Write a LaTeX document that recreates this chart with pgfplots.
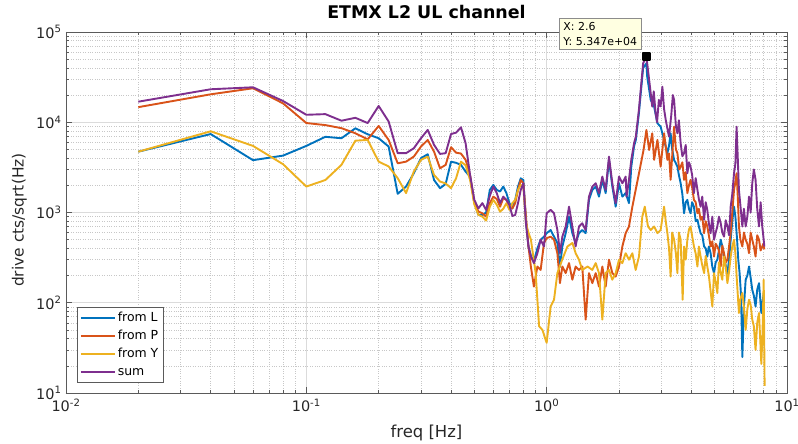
\documentclass[border=0pt]{standalone}
\usepackage{pgfplots}
\pgfplotsset{compat=1.18}
\usepackage{fontspec}
\setmainfont{DejaVu Sans}

\definecolor{mblue}{RGB}{0,114,189}
\definecolor{mred}{RGB}{217,83,25}
\definecolor{myellow}{RGB}{237,177,32}
\definecolor{mpurple}{RGB}{126,47,142}
\definecolor{axgray}{RGB}{90,90,90}
\definecolor{tipfill}{RGB}{255,255,225}

\begin{document}
\begin{tikzpicture}
\begin{axis}[
  xmode=log, ymode=log,
  scale only axis,
  width=721bp, height=361bp,
  xmin=0.01, xmax=10, ymin=10, ymax=1e5,
  xtick={0.01,0.1,1,10},
  xticklabels={10\textsuperscript{-2},10\textsuperscript{-1},10\textsuperscript{0},10\textsuperscript{1}},
  ytick={10,100,1000,10000,100000},
  yticklabels={10\textsuperscript{1},10\textsuperscript{2},10\textsuperscript{3},10\textsuperscript{4},10\textsuperscript{5}},
  ticklabel style={font=\fontsize{14.5}{16}\selectfont, text=black!85},
  xticklabel style={yshift=-2.5bp},
  yticklabel style={xshift=-1bp},
  tick align=inside,
  major tick length=6bp, minor tick length=3bp,
  tick style={axgray, line width=0.5bp},
  axis line style={axgray, line width=0.6bp},
  grid=both,
  major grid style={black!14, line width=0.6bp},
  minor grid style={black!22, dotted, line width=0.5bp},
  title={\bfseries ETMX L2 UL channel},
  title style={at={(axis description cs:0.5,1.039)}, anchor=center, font=\fontsize{17.5}{19}\selectfont},
  xlabel={freq [Hz]},
  xlabel style={at={(axis description cs:0.5,-0.111)}, anchor=center, font=\fontsize{16.5}{18}\selectfont, text=black!85},
  ylabel={drive cts/sqrt(Hz)},
  ylabel style={at={(axis description cs:-0.0645,0.479)}, anchor=center, font=\fontsize{15.5}{17}\selectfont, text=black!85},
  legend style={at={(axis description cs:0.0148,0.0285)}, anchor=south west,
    draw=axgray, fill=white, font=\fontsize{12.5}{14}\selectfont,
    nodes={text height=9bp, text depth=2.5bp, inner sep=2bp},
    row sep=2.5bp, inner xsep=3bp, inner ysep=3bp},
  legend cell align=left,
  legend image code/.code={\draw[#1, line width=1.9bp] (0bp,0bp) -- (34bp,0bp);},
  every axis plot/.append style={line width=1.9bp, line join=round},
  clip=false,
]

% from L
\addplot[mblue] table {
f v
0.02 4720
0.04 7400
0.06 3800
0.08 4270
0.10 5470
0.12 6900
0.14 6650
0.16 8570
0.18 7360
0.20 6650
0.22 5380
0.24 1610
0.26 1940
0.28 2720
0.30 4000
0.32 4420
0.34 2290
0.36 1860
0.38 2070
0.40 3660
0.42 3550
0.44 3370
0.46 2840
0.48 2500
0.50 1300
0.52 940
0.54 940
0.56 1000
0.58 1780
0.60 2020
0.62 1780
0.64 1710
0.66 1940
0.68 1640
0.70 1270
0.72 1110
0.74 1380
0.76 1940
0.78 2390
0.80 2290
0.82 800
0.84 420
0.86 330
0.885 290
0.915 400
0.944 500
0.975 540
1.0 590
1.039 640
1.073 540
1.108 460
1.136 250
1.162 420
1.2 590
1.239 900
1.279 590
1.32 460
1.363 590
1.407 640
1.453 590
1.5 1380
1.549 1780
1.6 1940
1.651 1500
1.705 2300
1.76 1640
1.817 3830
1.876 1940
1.937 1160
2.0 2110
2.065 1500
2.132 1640
2.2 1270
2.25 3220
2.31 5400
2.35 6370
2.42 12600
2.52 40000
2.6 45000
2.62 32000
2.71 17700
2.8 14900
2.89 9750
2.98 8930
3.08 6370
3.18 4540
3.23 5500
3.28 7550
3.33 5000
3.39 3830
3.45 3500
3.5 3220
3.55 2600
3.61 2110
3.67 1600
3.73 980
3.79 1300
3.85 1380
3.91 1100
3.97 980
4.03 1300
4.1 1160
4.17 800
4.24 830
4.3 700
4.37 590
4.44 560
4.52 420
4.59 400
4.66 325
4.73 420
4.81 354
4.89 250
4.97 213
5.05 280
5.13 300
5.21 380
5.3 500
5.38 420
5.47 325
5.56 260
5.65 213
5.74 300
5.83 500
5.92 800
6.02 1160
6.1 900
6.2 500
6.27 300
6.35 213
6.44 120
6.52 25
6.62 90
6.73 180
6.84 200
6.95 252
7.06 190
7.17 139
7.28 120
7.4 91
7.52 140
7.65 165
7.74 110
7.82 77
7.91 100
8.0 128
};
\addlegendentry{from L}

% from P
\addplot[mred] table {
f v
0.02 14700
0.04 20400
0.06 23800
0.08 16200
0.10 9800
0.12 9300
0.14 8600
0.16 7550
0.18 6460
0.20 9100
0.22 6370
0.24 3510
0.26 3660
0.28 4160
0.30 5380
0.32 6370
0.34 4720
0.36 3090
0.38 3370
0.40 5290
0.42 4600
0.44 4500
0.46 3830
0.48 2610
0.50 1270
0.52 1025
0.54 980
0.56 900
0.58 1270
0.60 1500
0.62 1410
0.64 1160
0.66 1440
0.68 1380
0.70 1210
0.72 1110
0.74 1270
0.76 1780
0.78 2290
0.80 2110
0.82 900
0.84 420
0.86 250
0.885 151
0.915 252
0.944 231
0.975 460
1.0 520
1.039 540
1.073 500
1.108 354
1.136 165
1.162 252
1.2 213
1.239 275
1.279 180
1.32 252
1.363 231
1.407 252
1.453 65
1.5 213
1.549 165
1.6 213
1.651 151
1.705 252
1.76 151
1.817 300
1.876 213
1.937 195
2.0 252
2.065 420
2.132 590
2.2 700
2.273 1160
2.346 1780
2.422 2720
2.53 4930
2.6 8220
2.67 4930
2.75 7550
2.8 3830
2.89 6370
2.98 3220
3.08 7550
3.18 3830
3.23 4500
3.28 2300
3.39 8930
3.45 5000
3.5 4540
3.56 3000
3.61 3220
3.67 3600
3.73 2300
3.79 2800
3.85 1640
3.91 2000
3.97 2300
4.03 1900
4.1 1380
4.17 1300
4.24 980
4.3 1100
4.37 830
4.44 900
4.52 590
4.59 800
4.66 700
4.73 560
4.81 420
4.89 480
4.97 325
5.05 450
5.13 420
5.21 380
5.3 252
5.38 430
5.47 354
5.56 280
5.65 300
5.74 420
5.83 590
5.92 1000
6.02 1780
6.1 2200
6.17 2720
6.24 1500
6.31 700
6.4 500
6.52 420
6.62 600
6.73 500
6.84 450
6.95 354
7.06 600
7.17 500
7.28 420
7.4 325
7.52 560
7.65 500
7.77 380
7.89 420
7.97 450
8.05 390
};
\addlegendentry{from P}

% from Y
\addplot[myellow] table {
f v
0.02 4720
0.04 7940
0.06 5470
0.08 3430
0.10 1940
0.12 2290
0.14 3370
0.16 6250
0.18 6370
0.20 3660
0.22 3240
0.24 2400
0.26 1640
0.28 2840
0.30 3830
0.32 4160
0.34 2610
0.36 2200
0.38 2100
0.40 1860
0.42 2400
0.44 3660
0.46 3330
0.48 2300
0.50 1230
0.52 940
0.54 900
0.56 813
0.58 1160
0.60 1380
0.62 1220
0.64 1020
0.66 1100
0.68 1270
0.70 1070
0.72 1270
0.74 1380
0.76 1780
0.78 2020
0.80 1940
0.82 760
0.84 600
0.86 500
0.90 213
0.93 55
0.96 50
1.0 36
1.039 91
1.073 108
1.108 213
1.16 300
1.22 420
1.28 460
1.32 354
1.363 300
1.407 231
1.48 252
1.549 231
1.6 275
1.651 213
1.705 65
1.76 213
1.817 231
1.876 180
1.937 213
2.0 300
2.065 275
2.132 354
2.2 300
2.273 354
2.346 231
2.422 325
2.5 900
2.56 1160
2.64 700
2.71 640
2.8 700
2.89 590
2.98 640
3.08 1160
3.13 800
3.18 590
3.23 400
3.28 195
3.33 600
3.39 500
3.45 350
3.5 213
3.55 600
3.61 500
3.68 108
3.73 420
3.79 300
3.85 500
3.91 650
3.97 700
4.03 550
4.1 420
4.17 350
4.24 252
4.3 420
4.37 325
4.44 260
4.52 213
4.59 330
4.66 252
4.73 200
4.89 91
4.97 213
5.05 170
5.13 128
5.21 280
5.3 213
5.38 180
5.47 325
5.56 250
5.65 165
5.74 220
5.83 325
5.92 420
6.02 500
6.1 350
6.17 200
6.31 77
6.4 110
6.52 128
6.62 90
6.73 50
6.84 85
6.95 108
7.06 95
7.17 65
7.28 55
7.4 30
7.52 60
7.65 77
7.82 21
7.91 46
8.0 180
8.07 12
};
\addlegendentry{from Y}

% sum
\addplot[mpurple] table {
f v
0.02 16900
0.04 23200
0.06 24400
0.08 17200
0.10 12100
0.12 12300
0.14 10400
0.16 11200
0.18 9800
0.20 15150
0.22 10200
0.24 4540
0.26 4540
0.28 5150
0.30 6650
0.32 8220
0.34 5610
0.36 4460
0.38 4540
0.40 7400
0.42 7680
0.44 8790
0.46 5850
0.48 2610
0.50 1380
0.52 1110
0.54 1270
0.56 1070
0.58 1530
0.60 1940
0.62 1640
0.64 1270
0.66 1500
0.68 1380
0.70 1210
0.72 917
0.74 940
0.76 1270
0.78 1780
0.80 2110
0.82 760
0.84 420
0.86 325
0.885 275
0.915 354
0.944 500
0.975 420
1.0 980
1.039 1070
1.073 980
1.108 640
1.136 354
1.162 540
1.2 700
1.239 1160
1.279 700
1.32 420
1.363 700
1.407 760
1.453 640
1.5 1500
1.549 1940
1.6 2110
1.651 1640
1.705 2500
1.76 1780
1.817 4160
1.876 2110
1.937 1270
2.0 2500
2.065 2110
2.132 2500
2.15 1500
2.2 2300
2.25 3830
2.31 5850
2.35 6930
2.42 13700
2.52 45000
2.6 53470
2.68 27000
2.72 19200
2.75 14900
2.79 22000
2.84 12600
2.88 10000
2.93 17700
2.98 15000
3.03 24800
3.08 14000
3.13 10600
3.18 8500
3.23 6930
3.3 12000
3.35 20000
3.39 17700
3.45 9000
3.5 7550
3.55 10500
3.61 5850
3.67 4200
3.73 4540
3.79 5600
3.85 2720
3.91 3600
3.97 3220
4.03 2600
4.1 1640
4.17 2400
4.24 1780
4.3 1400
4.37 1160
4.44 1500
4.52 830
4.59 1300
4.66 1070
4.73 760
4.81 590
4.89 900
4.97 500
5.05 600
5.13 700
5.21 900
5.3 760
5.38 600
5.47 540
5.56 820
5.65 700
5.74 560
5.83 1160
5.92 1600
6.02 2720
6.1 3500
6.17 8930
6.24 4000
6.31 1780
6.4 1200
6.52 700
6.62 1100
6.73 700
6.84 900
6.95 1500
7.06 1000
7.17 2110
7.28 3000
7.4 2300
7.52 1100
7.65 700
7.77 1300
7.89 700
7.97 550
8.05 420
};
\addlegendentry{sum}

% data tip on the peak of the sum
\addplot[only marks, mark=square*, mark size=3.5bp, mark options={fill=black, draw=black}, forget plot] coordinates {(2.6,53470)};
\node[anchor=south east, draw=black!45, fill=tipfill, line width=0.5bp,
  font=\fontsize{11}{15}\selectfont, align=left, inner xsep=4bp, inner ysep=4bp]
  at ([xshift=-5bp, yshift=7bp]axis cs:2.6,53470) {X: 2.6\\Y: 5.347e+04};
\end{axis}
\pgfresetboundingbox
\useasboundingbox (current axis.south west) ++(-66bp,-51bp) rectangle ++(798bp,444bp);
\end{tikzpicture}
\end{document}
